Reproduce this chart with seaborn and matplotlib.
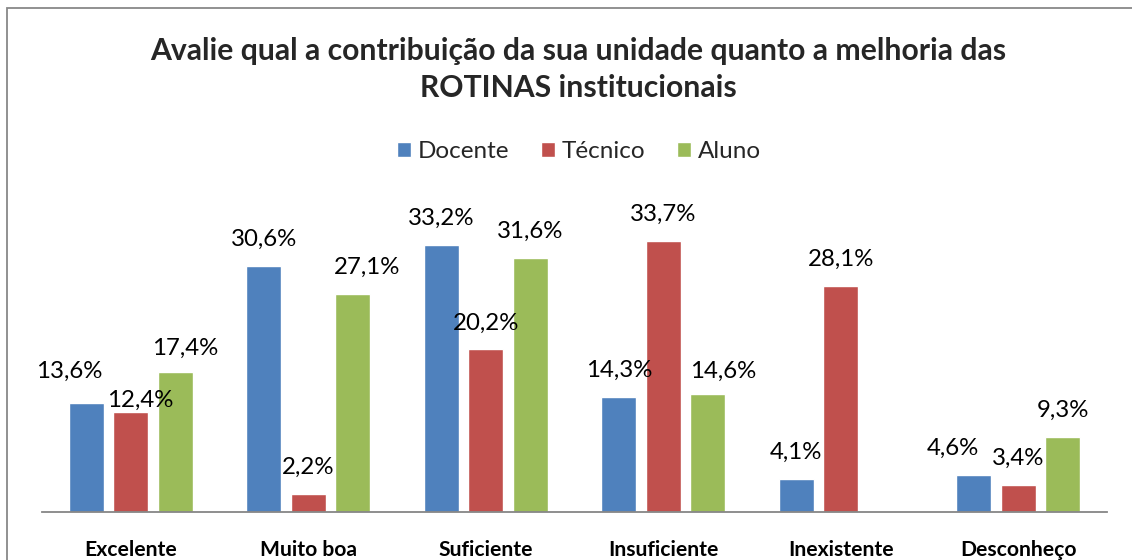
import pandas as pd
import numpy as np
import matplotlib.pyplot as plt
import seaborn as sns
from matplotlib.patches import Rectangle

# estilo
sns.set_style("white")
plt.rcParams['font.family'] = ['Lato', 'DejaVu Sans']

# --- dados ---
categorias = ['Excelente', 'Muito boa', 'Suficiente', 'Insuficiente', 'Inexistente', 'Desconheço']
grupos = ['Docente', 'Técnico', 'Aluno']
docente = [13.6, 30.6, 33.2, 14.3, 4.1, 4.6]
tecnico = [12.4, 2.2, 20.2, 33.7, 28.1, 3.4]
aluno = [17.4, 27.1, 31.6, 14.6, np.nan, 9.3]

cores = ['#4F81BD', '#C0504D', '#9BBB59']

df = pd.DataFrame({
    'Categoria': categorias * 3,
    'Grupo': [g for g in grupos for _ in categorias],
    'Valor': docente + tecnico + aluno,
})

# deslocamentos manuais dos rótulos (pixels), como no original
ajustes = {
    ('Excelente', 'Docente'): (-17, 25),
    ('Excelente', 'Técnico'): (9, 5),
    ('Excelente', 'Aluno'): (10, 17),
    ('Muito boa', 'Aluno'): (14, 20),
    ('Insuficiente', 'Aluno'): (16, 17),
    ('Desconheço', 'Docente'): (-21, 20),
}

fig = plt.figure(figsize=(11.32, 5.6), dpi=100)
W, H = 1132, 560
ax = fig.add_axes([42 / W, 48 / H, 1065 / W, 322 / H])

sns.barplot(data=df, x='Categoria', y='Valor', hue='Grupo', hue_order=grupos,
            order=categorias, palette=cores, width=0.75, gap=0.21,
            saturation=1, ax=ax, legend=True)

ax.set_ylim(0, 40)
ax.set_xlim(-0.5, 5.5)
ax.set_xlabel('')
ax.set_ylabel('')
ax.set_yticks([])
for lado in ['top', 'left', 'right']:
    ax.spines[lado].set_visible(False)
ax.spines['bottom'].set_color('#868686')
ax.spines['bottom'].set_linewidth(1.3)
ax.tick_params(axis='x', length=0, pad=20)
for t in ax.get_xticklabels():
    t.set_fontsize(15.2)
    t.set_fontweight('bold')
    t.set_color('black')

# rótulos de dados
valores = df.set_index(['Categoria', 'Grupo'])['Valor']
for grupo, cont in zip(grupos, ax.containers):
    for barra in cont:
        i = int(round(barra.get_x() + barra.get_width() / 2))
        cat = categorias[i]
        v = valores[(cat, grupo)]
        if np.isnan(v):
            continue
        dx, dy = ajustes.get((cat, grupo), (0, 20))
        ax.annotate(f"{v:.1f}%".replace('.', ','),
                    (barra.get_x() + barra.get_width() / 2, v),
                    xytext=(dx, dy), textcoords='offset pixels',
                    ha='center', va='baseline', fontsize=17.3, color='black')

# legenda
handles, labels = ax.get_legend_handles_labels()
ax.legend(handles, labels, ncol=3, loc='center',
          bbox_to_anchor=(579 / W, 1 - 152 / H), bbox_transform=fig.transFigure,
          frameon=False, fontsize=17.5, handlelength=0.58, handleheight=0.58,
          handletextpad=0.3, columnspacing=1.28, borderpad=0)

# título
fig.text(578 / W, 1 - 60 / H, 'Avalie qual a contribuição da sua unidade quanto a melhoria das',
         ha='center', va='baseline', fontsize=21.7, fontweight='bold')
fig.text(578 / W, 1 - 97 / H, 'ROTINAS institucionais',
         ha='center', va='baseline', fontsize=21.7, fontweight='bold')

# moldura do gráfico
fig.patches.append(Rectangle((7 / W, -0.1), 1.2, 1 - 8 / H + 0.1, transform=fig.transFigure,
                             fill=False, edgecolor='#888888', linewidth=1.3))

fig.savefig('out.png', dpi=100)
